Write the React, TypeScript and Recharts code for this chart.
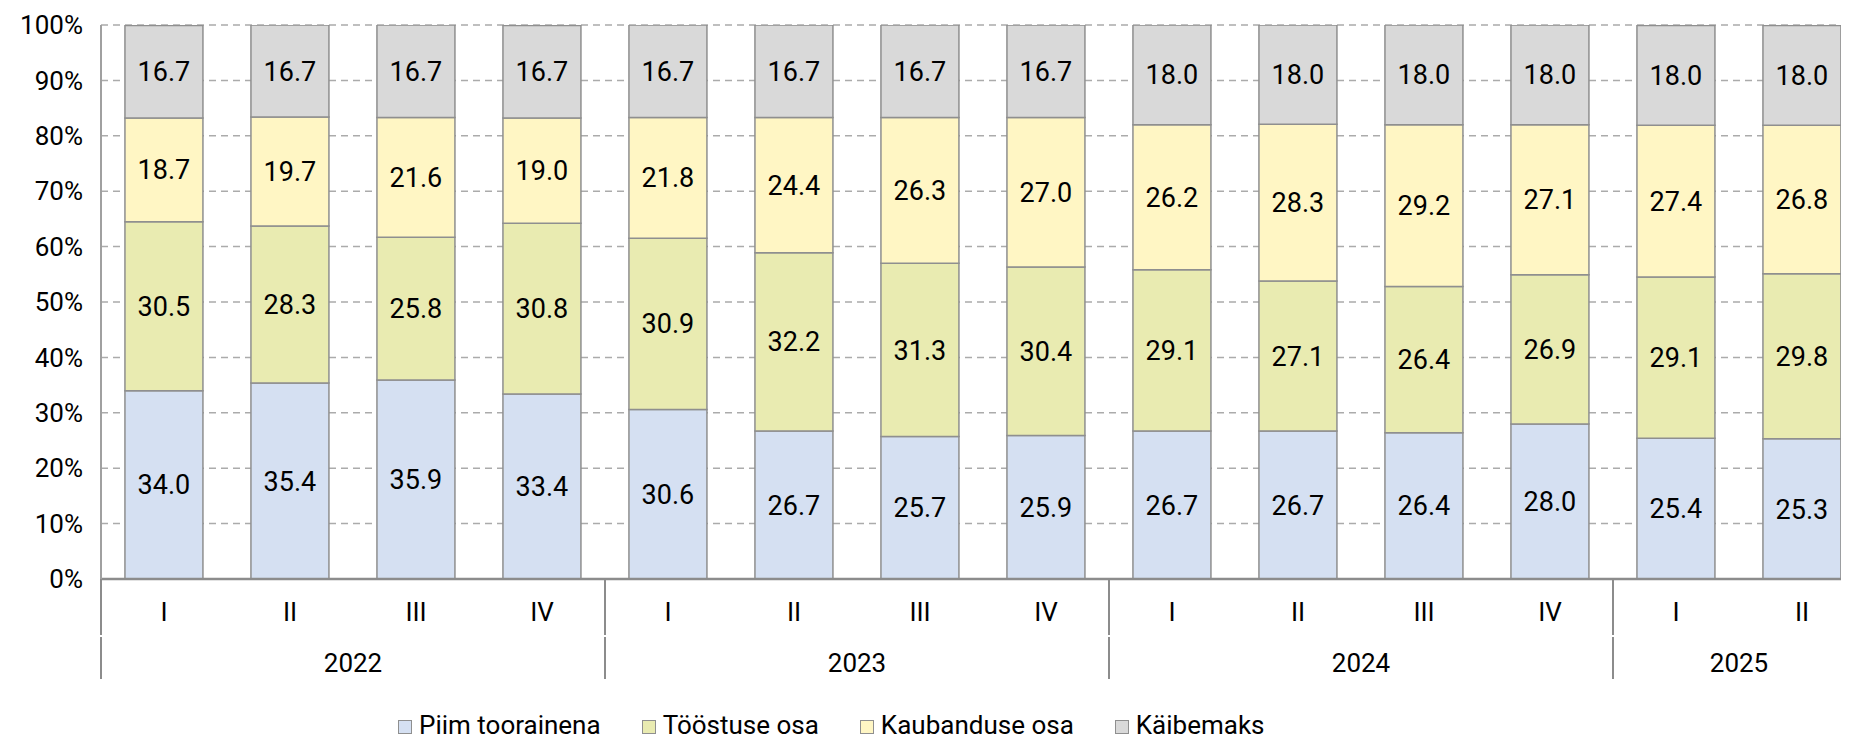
import React from 'react'
import { Bar, BarChart, CartesianGrid, LabelList, XAxis, YAxis } from 'recharts'

const quarters = ['I', 'II', 'III', 'IV', 'I', 'II', 'III', 'IV', 'I', 'II', 'III', 'IV', 'I', 'II']
const years = ['2022', '2022', '2022', '2022', '2023', '2023', '2023', '2023', '2024', '2024', '2024', '2024', '2025', '2025']

const piim = [34.0, 35.4, 35.9, 33.4, 30.6, 26.7, 25.7, 25.9, 26.7, 26.7, 26.4, 28.0, 25.4, 25.3]
const toostus = [30.5, 28.3, 25.8, 30.8, 30.9, 32.2, 31.3, 30.4, 29.1, 27.1, 26.4, 26.9, 29.1, 29.8]
const kaubandus = [18.7, 19.7, 21.6, 19.0, 21.8, 24.4, 26.3, 27.0, 26.2, 28.3, 29.2, 27.1, 27.4, 26.8]
const kaibemaks = [16.7, 16.7, 16.7, 16.7, 16.7, 16.7, 16.7, 16.7, 18.0, 18.0, 18.0, 18.0, 18.0, 18.0]

const yTicks = [0, 10, 20, 30, 40, 50, 60, 70, 80, 90, 100]

const series = [
  { key: 'piim', name: 'Piim toorainena', color: '#D5E0F2' },
  { key: 'toostus', name: 'Tööstuse osa', color: '#E9EBB1' },
  { key: 'kaubandus', name: 'Kaubanduse osa', color: '#FFF6C4' },
  { key: 'kaibemaks', name: 'Käibemaks', color: '#D9D9D9' },
]

const data = quarters.map((q, i) => ({
  q,
  year: years[i],
  piim: piim[i],
  toostus: toostus[i],
  kaubandus: kaubandus[i],
  kaibemaks: kaibemaks[i],
}))

const FONT = 'Roboto, sans-serif'
const CHART_W = 1867
const CHART_H = 671
const MARGIN = { top: 17, right: 10, bottom: 0, left: 13 }
const Y_W = 80
const X_H = 100
const BAND = (CHART_W - MARGIN.left - MARGIN.right - Y_W) / quarters.length

const QuarterTick = (props: any) => {
  const { x, y, index } = props
  const year = years[index]
  const first = index === 0 || years[index - 1] !== year
  const count = years.filter((v) => v === year).length
  const left = x - BAND / 2
  return (
    <g>
      <text x={x} y={y + 42} textAnchor="middle" fontSize={26} fontFamily={FONT} fill="#000">
        {quarters[index]}
      </text>
      {first && (
        <>
          <line x1={left} x2={left} y1={y} y2={y + 56} stroke="#8c8c8c" strokeWidth={2} />
          <line x1={left} x2={left} y1={y + 58} y2={y + 100} stroke="#8c8c8c" strokeWidth={2} />
          <text x={left + (count * BAND) / 2} y={y + 93} textAnchor="middle" fontSize={26} fontFamily={FONT} fill="#000">
            {year}
          </text>
        </>
      )}
    </g>
  )
}

export default function App() {
  return (
    <div style={{ width: 1841, height: 733, overflow: 'hidden', position: 'relative' }}>
      <BarChart
        width={CHART_W}
        height={CHART_H}
        data={data}
        margin={MARGIN}
        barCategoryGap="19%"
      >
        <CartesianGrid vertical={false} stroke="#ababab" strokeDasharray="7 5" strokeWidth={1.5} />
        <XAxis
          dataKey="q"
          interval={0}
          height={X_H}
          tickLine={false}
          tickSize={0}
          tickMargin={0}
          axisLine={{ stroke: '#8c8c8c', strokeWidth: 2.5 }}
          tick={<QuarterTick />}
        />
        <YAxis
          width={Y_W}
          domain={[0, 100]}
          ticks={yTicks}
          interval={0}
          allowDataOverflow
          tickLine={false}
          tickMargin={12}
          axisLine={{ stroke: '#a0a0a0', strokeWidth: 2 }}
          tickFormatter={(v: number) => `${v}%`}
          tick={{ fontSize: 26, fontFamily: FONT, fill: '#000' }}
        />
        {series.map((s) => (
          <Bar
            key={s.key}
            dataKey={s.key}
            name={s.name}
            stackId="a"
            fill={s.color}
            stroke="#8f8f8f"
            strokeWidth={1.5}
            isAnimationActive={false}
          >
            <LabelList
              dataKey={s.key}
              position="center"
              formatter={(v: any) => Number(v).toFixed(1)}
              style={{ fontSize: 27, fontFamily: FONT, fill: '#000' }}
            />
          </Bar>
        ))}
      </BarChart>
      <div
        style={{
          position: 'absolute',
          top: 705,
          left: 390,
          display: 'flex',
          fontFamily: FONT,
          fontSize: 26,
          lineHeight: '24px',
          color: '#000',
          whiteSpace: 'nowrap',
        }}
      >
        {series.map((s) => (
          <div key={s.key} style={{ display: 'flex', alignItems: 'center', marginRight: 41 }}>
            <span
              style={{
                width: 12,
                height: 12,
                background: s.color,
                border: '1.5px solid #8f8f8f',
                marginRight: 7,
                marginTop: 3,
                display: 'inline-block',
              }}
            />
            <span>{s.name}</span>
          </div>
        ))}
      </div>
    </div>
  )
}
